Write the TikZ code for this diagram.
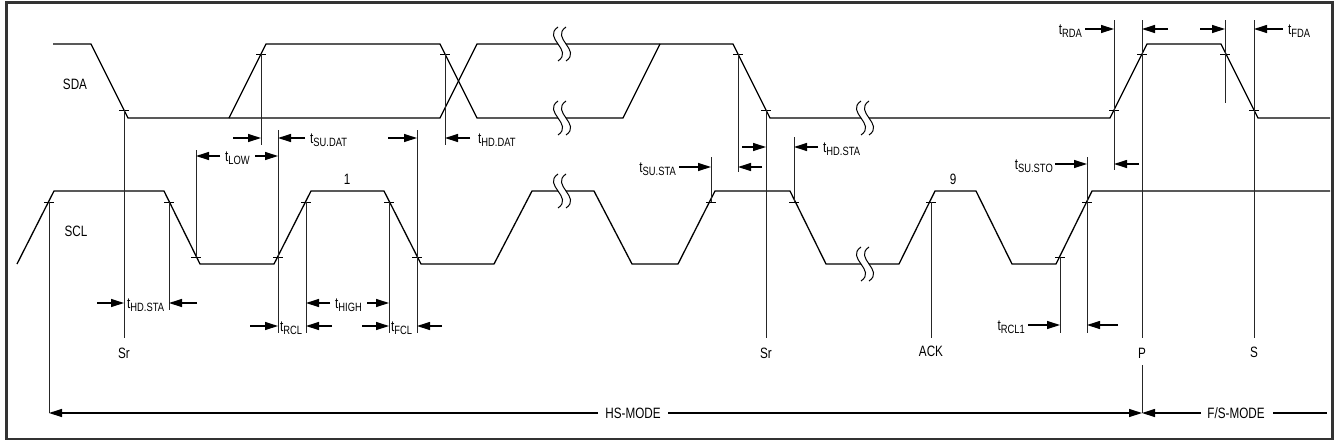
\documentclass[tikz,border=0pt]{standalone}
\usepackage{fontspec}
\setmainfont{Liberation Sans}[FakeStretch=0.78]
\usetikzlibrary{arrows.meta}
\newcommand{\tsb}[1]{t\raisebox{-3pt}{\fontsize{12}{12}\selectfont #1}}
\newcommand{\brk}[2]{%
  \fill[white] (#1-4,#2-17) .. controls (#1-20,#2-6) and (#1+12,#2+6) .. (#1-4,#2+17)
     -- (#1+4,#2+17) .. controls (#1+20,#2+6) and (#1-12,#2-6) .. (#1+4,#2-17) -- cycle;
  \draw[brkline] (#1-4,#2-17) .. controls (#1-20,#2-6) and (#1+12,#2+6) .. (#1-4,#2+17);
  \draw[brkline] (#1+4,#2-17) .. controls (#1-12,#2-6) and (#1+20,#2+6) .. (#1+4,#2+17);}
\begin{document}
\begin{tikzpicture}[x=1pt,y=-1pt,
  wave/.style={line width=1.3pt, line join=miter},
  vln/.style={line width=1pt, draw=black!85},
  brkline/.style={line width=1pt},
  darr/.style={line width=1.2pt, -{Triangle[length=13pt,width=8pt]}},
  lbl/.style={inner sep=0pt, font=\fontsize{15}{15}\selectfont},
  ]
\useasboundingbox (0,0) rectangle (1335,445);
\draw[line width=2.5pt, draw=black!80] (6.5,2.5) rectangle (1332.5,439);

% SDA
\draw[wave] (53,44) -- (91,44) -- (128,118) -- (440,118) -- (477,44) -- (733,44) -- (770,118)
  -- (1110,118) -- (1147,44) -- (1221,44) -- (1258,118) -- (1330,118);
\draw[wave] (229,118) -- (266,44) -- (440,44) -- (477,118) -- (623,118) -- (660,44);
% SCL
\draw[wave] (17,264) -- (54,191) -- (164,191) -- (200,264) -- (274,264) -- (311,191) -- (384,191)
  -- (421,264) -- (494,264) -- (532,191) -- (594,191) -- (632,264) -- (678,264) -- (715,191)
  -- (790,191) -- (826,264) -- (899,264) -- (935,191) -- (976,191) -- (1012,264) -- (1056,264)
  -- (1092,191) -- (1330,191);

% breaks
\brk{562}{44}
\brk{562}{118}
\brk{562}{191}
\brk{865}{118}
\brk{865}{264}

% ticks
\foreach \x/\y in {124/110, 261/54, 445/54, 738/54, 766/110, 1114/110, 1142/54, 1225/54, 1254/110,
  49/202, 169/202, 196/257, 278/257, 306/202, 389/202, 417/257, 711/202, 794/202, 931/202,
  1060/257, 1087/202}
  \draw[line width=1pt] (\x-5,\y) -- (\x+5,\y);

% vertical reference lines
\draw[vln] (124,110) -- (124,338);
\draw[vln] (49,202) -- (49,413);
\draw[vln] (169,202) -- (169,310);
\draw[vln] (196,150) -- (196,257);
\draw[vln] (261,54) -- (261,145);
\draw[vln] (278,130) -- (278,333);
\draw[vln] (306,202) -- (306,333);
\draw[vln] (389,202) -- (389,333);
\draw[vln] (417,130) -- (417,333);
\draw[vln] (445,54) -- (445,145);
\draw[vln] (711,157) -- (711,202);
\draw[vln] (738,54) -- (738,172);
\draw[vln] (766,110) -- (766,338);
\draw[vln] (794,137) -- (794,202);
\draw[vln] (931,202) -- (931,338);
\draw[vln] (1060,257) -- (1060,333);
\draw[vln] (1087,157) -- (1087,333);
\draw[vln] (1114,20) -- (1114,170);
\draw[vln] (1142,20) -- (1142,338);
\draw[vln] (1142,365) -- (1142,413);
\draw[vln] (1225,20) -- (1225,103);
\draw[vln] (1254,20) -- (1254,338);

% dimension arrows
\draw[darr] (97,303) -- (124,303);
\draw[darr] (197,303) -- (169,303);
\draw[darr] (220,156) -- (196,156);
\draw[darr] (255,156) -- (278,156);
\draw[darr] (233,138) -- (261,138);
\draw[darr] (305,138) -- (278,138);
\draw[darr] (388,138) -- (417,138);
\draw[darr] (470,138) -- (445,138);
\draw[darr] (250,326) -- (278,326);
\draw[darr] (332,326) -- (306,326);
\draw[darr] (330,303) -- (306,303);
\draw[darr] (367,303) -- (389,303);
\draw[darr] (362,326) -- (389,326);
\draw[darr] (442,326) -- (417,326);
\draw[darr] (679,167) -- (711,167);
\draw[darr] (742,147) -- (766,147);
\draw[darr] (762,167) -- (738,167);
\draw[darr] (818,147) -- (794,147);
\draw[darr] (1055,164) -- (1087,164);
\draw[darr] (1139,164) -- (1114,164);
\draw[darr] (1028,325) -- (1060,325);
\draw[darr] (1118,325) -- (1087,325);
\draw[darr] (1085,29) -- (1114,29);
\draw[darr] (1168,29) -- (1142,29);
\draw[darr] (1200,29) -- (1225,29);
\draw[darr] (1283,29) -- (1254,29);
\draw[darr] (598,413) -- (49,413);
\draw[darr] (668,413) -- (1142,413);
\draw[darr] (1201,413) -- (1142,413);
\draw[line width=1.2pt] (1273,413) -- (1327,413);

% labels
\node[lbl, anchor=base] (sda) at (75,89.4) {SDA};
\node[lbl, anchor=base] (scl) at (76,236.4) {SCL};
\node[lbl, anchor=base] (sr1) at (124,358.4) {Sr};
\node[lbl, anchor=base] (sr2) at (766,358.4) {Sr};
\node[lbl, anchor=base] (ack) at (931,356.4) {ACK};
\node[lbl, anchor=base] (pp) at (1142,358) {P};
\node[lbl, anchor=base] (ss) at (1254,357.4) {S};
\node[lbl, anchor=base] (one) at (347,184.4) {1};
\node[lbl, anchor=base] (nine) at (953,184.4) {9};
\node[lbl, anchor=base] (hs) at (633,418.4) {HS-MODE};
\node[lbl, anchor=base] (fs) at (1236,418.4) {F/S-MODE};

\node[lbl, anchor=base west] (thdsta1) at (127,308) {\tsb{HD.STA}};
\node[lbl, anchor=base west] (tlow) at (225,161) {\tsb{LOW}};
\node[lbl, anchor=base west] (tsudat) at (310,143) {\tsb{SU.DAT}};
\node[lbl, anchor=base west] (thddat) at (478,143) {\tsb{HD.DAT}};
\node[lbl, anchor=base west] (trcl) at (280,331) {\tsb{RCL}};
\node[lbl, anchor=base west] (thigh) at (335,308) {\tsb{HIGH}};
\node[lbl, anchor=base west] (tfcl) at (391,331) {\tsb{FCL}};
\node[lbl, anchor=base east] (tsusta) at (676,172) {\tsb{SU.STA}};
\node[lbl, anchor=base west] (thdsta2) at (823,152) {\tsb{HD.STA}};
\node[lbl, anchor=base east] (tsusto) at (1053,169) {\tsb{SU.STO}};
\node[lbl, anchor=base east] (trcl1) at (1025,330) {\tsb{RCL1}};
\node[lbl, anchor=base east] (trda) at (1082,34) {\tsb{RDA}};
\node[lbl, anchor=base west] (tfda) at (1288,34) {\tsb{FDA}};
\end{tikzpicture}
\end{document}
